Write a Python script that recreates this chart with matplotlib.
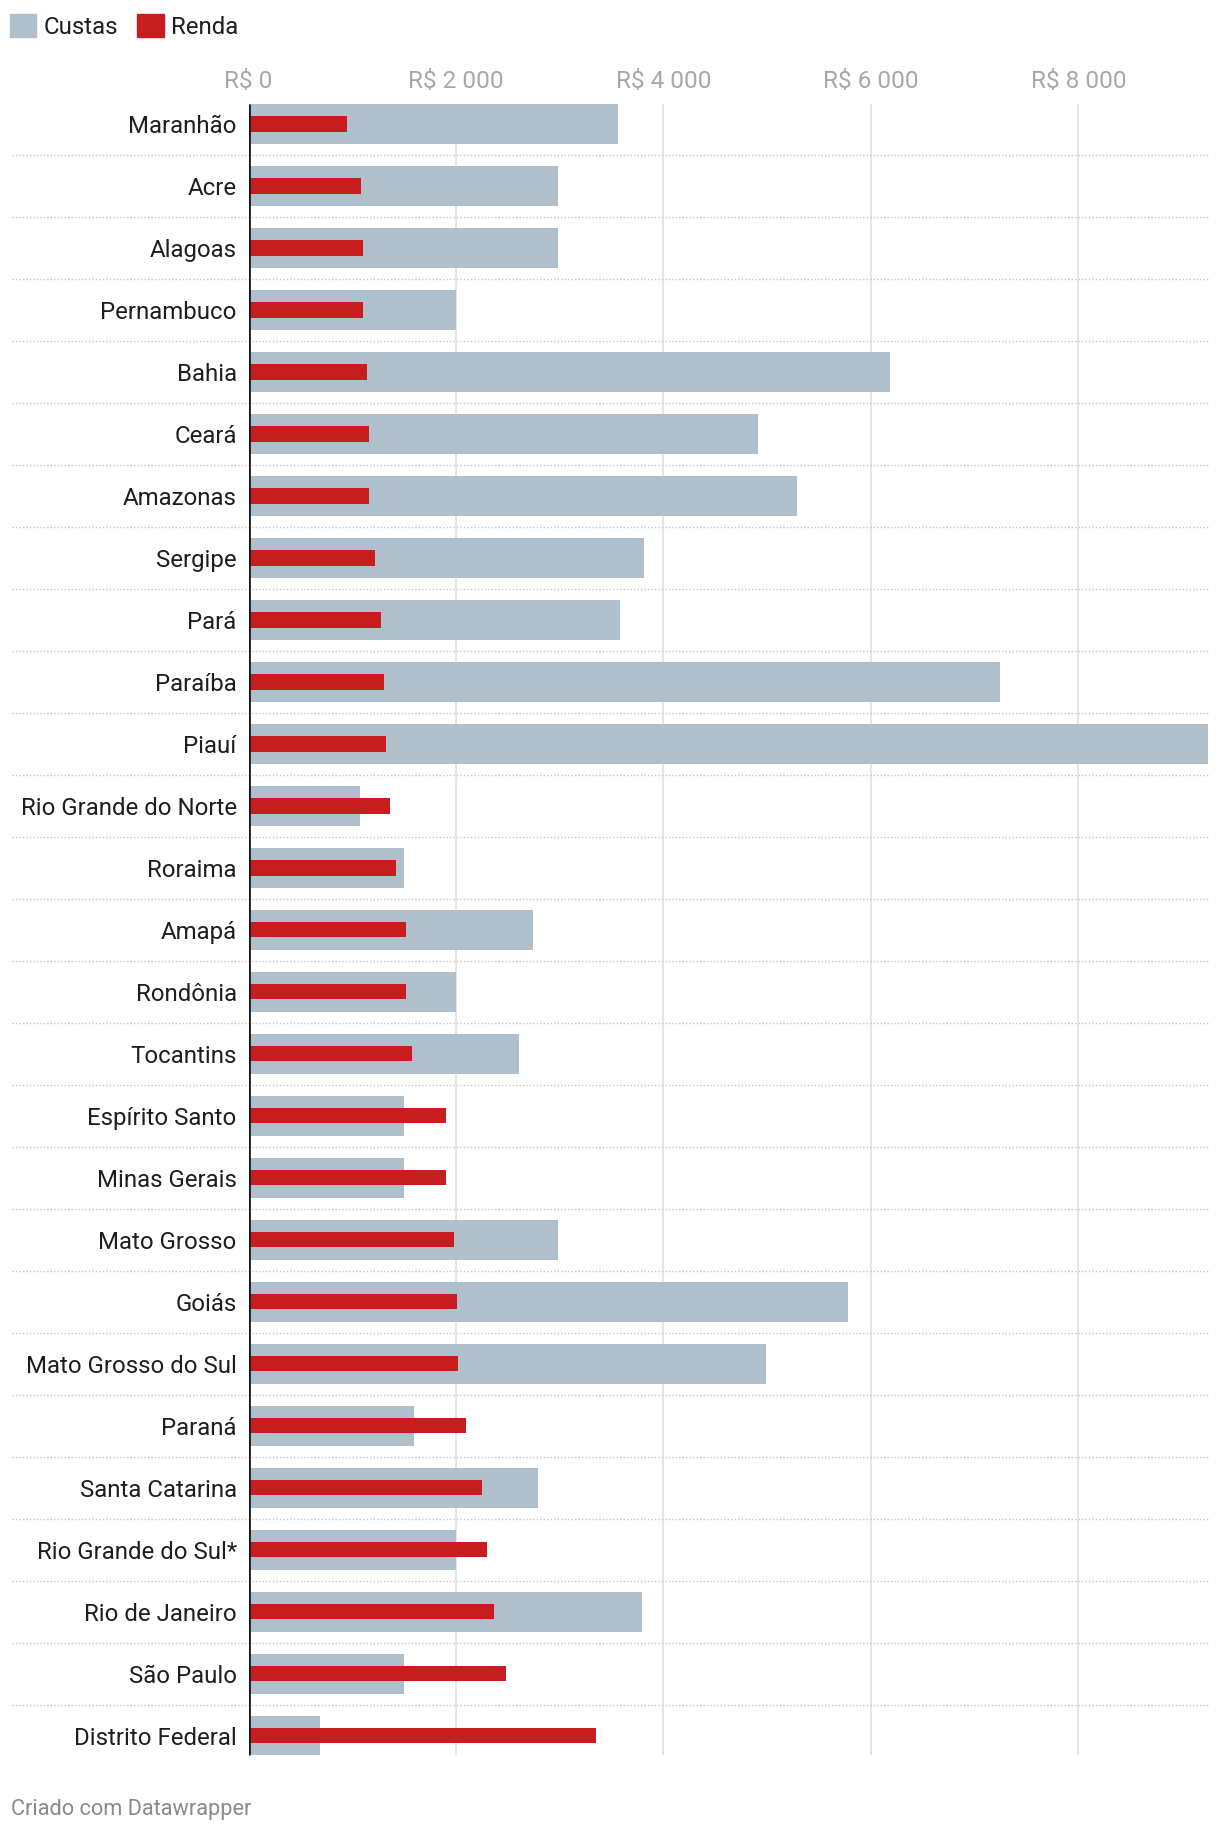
import matplotlib.pyplot as plt
from matplotlib.patches import Patch

plt.rcParams['font.family'] = ['Roboto', 'DejaVu Sans']

estados = ["Maranhão", "Acre", "Alagoas", "Pernambuco", "Bahia", "Ceará", "Amazonas",
           "Sergipe", "Pará", "Paraíba", "Piauí", "Rio Grande do Norte", "Roraima",
           "Amapá", "Rondônia", "Tocantins", "Espírito Santo", "Minas Gerais",
           "Mato Grosso", "Goiás", "Mato Grosso do Sul", "Paraná", "Santa Catarina",
           "Rio Grande do Sul*", "Rio de Janeiro", "São Paulo", "Distrito Federal"]
custas = [3560, 2986, 2986, 2000, 6186, 4913, 5285, 3808, 3583, 7245, 9250, 1078, 1497,
          2738, 2000, 2603, 1499, 1499, 2984, 5780, 4992, 1597, 2792, 2000, 3797, 1499, 690]
renda = [946, 1082, 1104, 1104, 1138, 1161, 1161, 1217, 1273, 1307, 1325, 1364, 1424,
         1521, 1521, 1577, 1904, 1904, 1982, 2006, 2017, 2096, 2252, 2300, 2366, 2479, 3348]
ticks = [0, 2000, 4000, 6000, 8000]
tick_labels = ["R$ 0", "R$ 2 000", "R$ 4 000", "R$ 6 000", "R$ 8 000"]

cor_custas = "#b0bfcc"
cor_renda = "#c81d1f"

W, H = 1220, 1834
fig = plt.figure(figsize=(W / 100, H / 100), dpi=100)

# axes placed in pixels: x from 248.5 to 1208, rows from 93 to 1766.5
x0, x1 = 248.5, 1208
y_top, y_bot = 93, 1766.5
ax = fig.add_axes([x0 / W, 1 - y_bot / H, (x1 - x0) / W, (y_bot - y_top) / H])

n = len(estados)
pos = list(range(n))
ax.barh(pos, custas, height=0.645, color=cor_custas, zorder=2)
ax.barh(pos, renda, height=0.25, color=cor_renda, zorder=3)

ax.set_xlim(0, 9250)
ax.set_ylim(n - 0.5, -0.5)

# vertical grid + zero line
ax.vlines(ticks[1:], -0.3225, n - 1 + 0.3225, color="#e3e3e3", lw=1.3, zorder=1)
ax.vlines(0, -0.3225, n - 1 + 0.3225, color="#1a1a1a", lw=2, zorder=4)

# dotted separators between rows, extending under the labels
sep_xmin = (12 - x0) / (x1 - x0)
for i in range(n - 1):
    ax.axhline(i + 0.5, xmin=sep_xmin, xmax=1, color="#c4c4c4", lw=1,
               linestyle=(0, (1, 1.5)), clip_on=False, zorder=1)

for s in ax.spines.values():
    s.set_visible(False)

ax.xaxis.tick_top()
ax.set_xticks(ticks, tick_labels)
ax.tick_params(axis="x", length=0, pad=0, labelsize=17.6, labelcolor="#a8a8a8")
ax.set_yticks(pos, estados)
ax.tick_params(axis="y", length=0, pad=8.5, labelsize=17.3, labelcolor="#1e1e1e")

handles = [Patch(color=cor_custas), Patch(color=cor_renda)]
fig.legend(handles, ["Custas", "Renda"], loc="center left",
           bbox_to_anchor=(10 / W, 1 - 26.5 / H), ncol=2, frameon=False,
           fontsize=17.3, handlelength=1.1, handleheight=1.1, handletextpad=0.3,
           columnspacing=0.8, borderpad=0, borderaxespad=0, labelcolor="#1e1e1e")

fig.text(11 / W, 1 - 1809 / H, "Criado com Datawrapper", fontsize=15.7,
         color="#8a8a8a", va="center", ha="left")

fig.savefig("out.png", dpi=100, facecolor="white")
